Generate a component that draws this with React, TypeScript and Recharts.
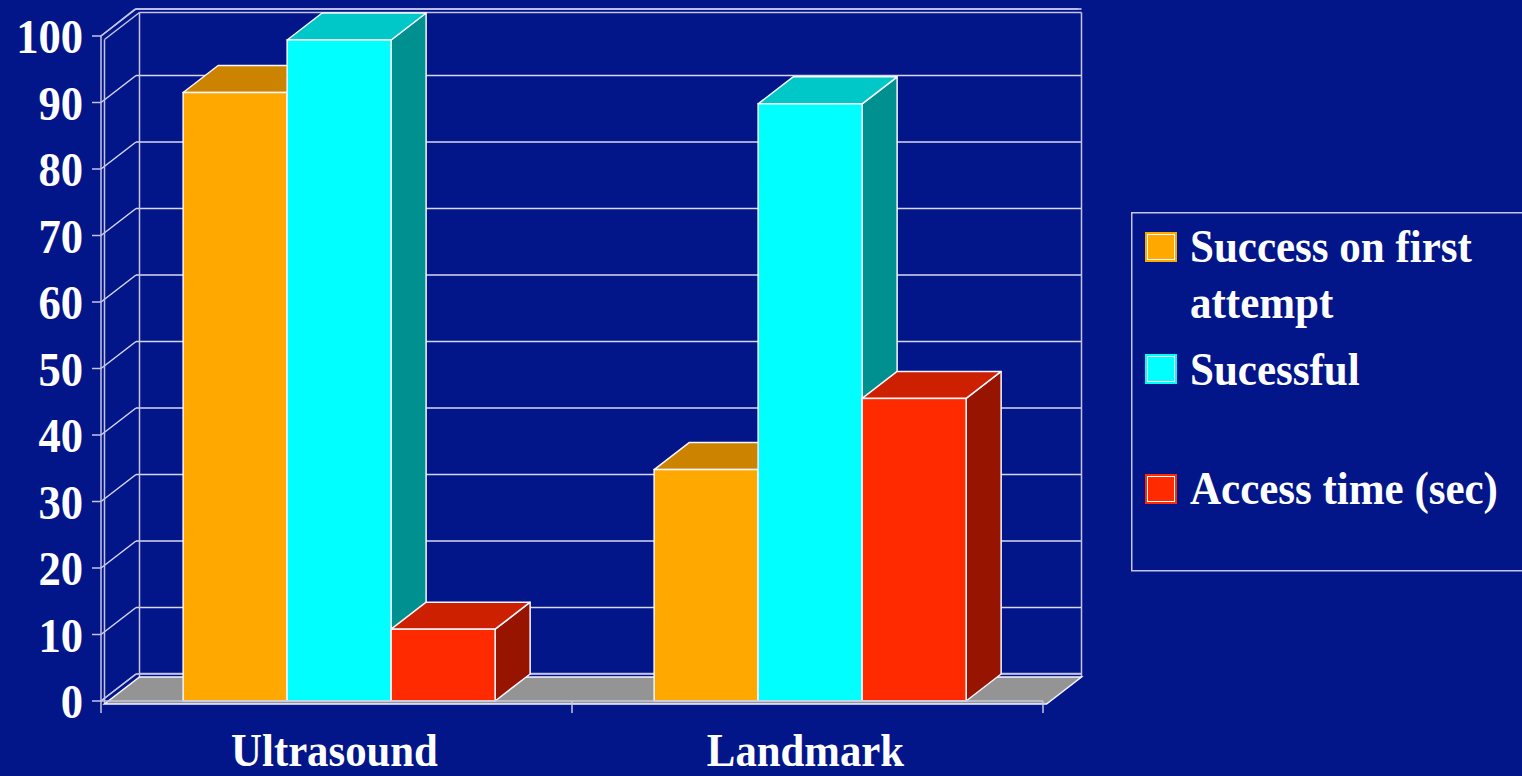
import React from 'react';
import { BarChart, Bar, XAxis, YAxis, CartesianGrid, Legend, ReferenceArea } from 'recharts';

const categories = ['Ultrasound', 'Landmark'];
const successFirst = [91.5, 34.8];
const successful = [99.4, 89.8];
const accessTime = [10.8, 45.5];
const seriesNames = ['Success on first attempt', 'Sucessful', 'Access time (sec)'];
const yTicks = [0, 10, 20, 30, 40, 50, 60, 70, 80, 90, 100];

const data = categories.map((name, i) => ({
  name,
  first: successFirst[i],
  ok: successful[i],
  time: accessTime[i],
}));

const BG = '#02168A';
const FRAME = '#c4c4e6';
const GRID = '#d8d8f2';
const EDGE = '#f6f6ff';
const FONT = '"Liberation Serif", "Times New Roman", serif';
const DX = 35;
const DY = 27;
const SHIFT = 3;

const COLORS = {
  orange: { front: '#FFA800', top: '#CC8400', side: '#996300' },
  cyan: { front: '#00FFFF', top: '#00C8C8', side: '#009090' },
  red: { front: '#FF2A00', top: '#CC2000', side: '#961400' },
};

const make3D = (c: { front: string; top: string; side: string }) => (props: any) => {
  const { y, width, height } = props;
  if (width == null || height == null) return <g />;
  const x = props.x + SHIFT;
  const topPts = `${x},${y} ${x + DX},${y - DY} ${x + width + DX},${y - DY} ${x + width},${y}`;
  const sidePts = `${x + width},${y} ${x + width + DX},${y - DY} ${x + width + DX},${y + height - DY} ${x + width},${y + height}`;
  return (
    <g>
      <polygon points={sidePts} fill={c.side} stroke={EDGE} strokeWidth={1.5} strokeLinejoin="round" />
      <polygon points={topPts} fill={c.top} stroke={EDGE} strokeWidth={1.5} strokeLinejoin="round" />
      <rect x={x} y={y} width={width} height={height} fill={c.front} stroke={EDGE} strokeWidth={1.5} />
    </g>
  );
};

const GridLine = (props: any) => {
  const { x1, y1, x2 } = props;
  return (
    <g>
      <line x1={x1 + DX} y1={y1 - DY} x2={x2 + DX + 3.5} y2={y1 - DY} stroke={GRID} strokeWidth={1.5} />
      <line x1={x1} y1={y1} x2={x1 + DX} y2={y1 - DY} stroke={GRID} strokeWidth={1.5} />
    </g>
  );
};

const Frame = (props: any) => {
  const { x, y, width, height } = props;
  const B = y + height;
  const R = x + width;
  const n = categories.length;
  const bTicks = Array.from({ length: n + 1 }, (_, i) => x + (i * width) / n);
  return (
    <g>
      <line x1={x + 34} y1={y - 27} x2={R + 35} y2={y - 27} stroke={FRAME} strokeWidth={1.5} />
      <line x1={x + 38.5} y1={y - 23.5} x2={R + 38.5} y2={y - 23.5} stroke={FRAME} strokeWidth={1.5} />
      <line x1={x + 38.5} y1={y - 23.5} x2={x + 38.5} y2={B - 24} stroke={FRAME} strokeWidth={1.5} />
      <line x1={R + 38.5} y1={y - 23.5} x2={R + 38.5} y2={B - 24} stroke={FRAME} strokeWidth={1.5} />
      <line x1={x + 38.5} y1={B - 27.5} x2={R + 38.5} y2={B - 27.5} stroke={FRAME} strokeWidth={1.5} />
      <line x1={x} y1={y} x2={x + 34} y2={y - 27} stroke={FRAME} strokeWidth={1.5} />
      <line x1={x + 3.5} y1={y + 3.5} x2={x + 38.5} y2={y - 23.5} stroke={FRAME} strokeWidth={1.5} />
      <line x1={x + 3.5} y1={y + 3.5} x2={x + 3.5} y2={B + 3} stroke={FRAME} strokeWidth={1.5} />
      <line x1={x} y1={B} x2={x + 35} y2={B - 27} stroke={FRAME} strokeWidth={1.5} />
      <polygon
        points={`${x + 3.5},${B + 3} ${R + 3.5},${B + 3} ${R + 38.5},${B - 24} ${x + 38.5},${B - 24}`}
        fill="#949494"
        stroke={EDGE}
        strokeWidth={1.5}
      />
      {bTicks.map((tx, i) => (
        <line key={i} x1={tx} y1={B} x2={tx} y2={B + 12} stroke={FRAME} strokeWidth={1.5} />
      ))}
    </g>
  );
};

const YTick = (props: any) => {
  const { x, y, payload } = props;
  return (
    <text
      transform={`translate(${x + 1},${y + 17}) scale(0.91,1)`}
      textAnchor="end"
      fill="#ffffff"
      fontFamily={FONT}
      fontWeight="bold"
      fontSize={49}
    >
      {payload.value}
    </text>
  );
};

const XTick = (props: any) => {
  const { x, y, payload } = props;
  return (
    <text
      transform={`translate(${x - 2},${y + 65}) scale(0.93,1)`}
      textAnchor="middle"
      fill="#ffffff"
      fontFamily={FONT}
      fontWeight="bold"
      fontSize={46}
    >
      {payload.value}
    </text>
  );
};

const legendColors = [COLORS.orange.front, COLORS.cyan.front, COLORS.red.front];

const LegendBox = () => {
  const sqTops = [20, 142, 262];
  const lines: { text: string; base: number }[][] = [
    [
      { text: 'Success on first', base: 50 },
      { text: 'attempt', base: 106 },
    ],
    [{ text: seriesNames[1], base: 173 }],
    [{ text: seriesNames[2], base: 292 }],
  ];
  return (
    <svg width={391} height={362} style={{ display: 'block' }}>
      <rect x={0.75} y={0.75} width={420} height={358} fill="none" stroke={FRAME} strokeWidth={1.5} />
      {legendColors.map((c, i) => (
        <g key={i}>
          <rect x={14} y={sqTops[i]} width={32} height={30} fill={c} />
          <rect x={16.5} y={sqTops[i] + 2.5} width={27} height={25} fill="none" stroke="#ffffff" strokeWidth={1} />
          {lines[i].map((l, j) => (
            <text
              key={j}
              transform={`translate(59,${l.base}) scale(0.915,1)`}
              fill="#ffffff"
              fontFamily={FONT}
              fontWeight="bold"
              fontSize={47}
            >
              {l.text}
            </text>
          ))}
        </g>
      ))}
    </svg>
  );
};

export default function App() {
  return (
    <div
      style={{
        position: 'absolute',
        left: 0,
        top: 0,
        width: 1522,
        height: 776,
        background: BG,
        overflow: 'hidden',
      }}
    >
      <BarChart
        width={1522}
        height={776}
        data={data}
        margin={{ top: 36, right: 88, bottom: 0, left: 0 }}
        barGap={0}
        barCategoryGap="16.8%"
      >
        <ReferenceArea y1={0} y2={100} shape={<Frame />} fill="none" stroke="none" ifOverflow="visible" />
        <CartesianGrid horizontal={(p: any) => <GridLine {...p} />} vertical={false} />
        <XAxis
          dataKey="name"
          height={75}
          axisLine={{ stroke: FRAME, strokeWidth: 1.5 }}
          tickLine={false}
          tickSize={0}
          tickMargin={0}
          tick={<XTick />}
          interval={0}
        />
        <YAxis
          width={101}
          domain={[0, 100]}
          ticks={yTicks}
          interval={0}
          axisLine={{ stroke: FRAME, strokeWidth: 1.5 }}
          tickLine={{ stroke: FRAME, strokeWidth: 1.5 }}
          tickSize={9}
          tickMargin={10}
          tick={<YTick />}
        />
        <Legend
          layout="vertical"
          align="right"
          verticalAlign="middle"
          content={() => <LegendBox />}
          wrapperStyle={{ left: 1131, top: 212, width: 391, height: 362 }}
        />
        <Bar dataKey="first" name={seriesNames[0]} fill={COLORS.orange.front} shape={make3D(COLORS.orange)} isAnimationActive={false} />
        <Bar dataKey="ok" name={seriesNames[1]} fill={COLORS.cyan.front} shape={make3D(COLORS.cyan)} isAnimationActive={false} />
        <Bar dataKey="time" name={seriesNames[2]} fill={COLORS.red.front} shape={make3D(COLORS.red)} isAnimationActive={false} />
      </BarChart>
    </div>
  );
}
